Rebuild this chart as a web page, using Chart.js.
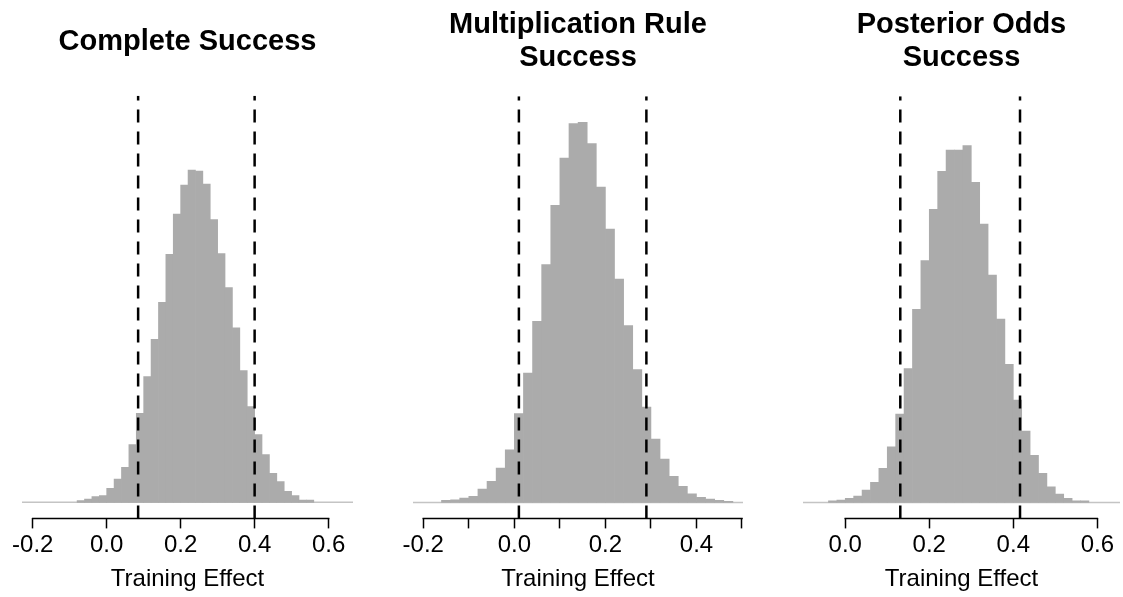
<!DOCTYPE html>
<html>
<head>
<meta charset="utf-8">
<script src="https://cdn.jsdelivr.net/npm/chart.js@4.4.1/dist/chart.umd.min.js"></script>
<style>
  body { margin: 0; background: #fff; }
  #wrap { position: relative; width: 1123px; height: 597px; }
  canvas { position: absolute; top: 0; }
</style>
</head>
<body>
<div id="wrap">
  <canvas id="chart1" width="374" height="597" style="left:0px"></canvas>
  <canvas id="chart2" width="375" height="597" style="left:374px"></canvas>
  <canvas id="chart3" width="374" height="597" style="left:749px"></canvas>
</div>
<script>
// histogram bins (left edges, width 0.02) and bar heights

// Complete Success
const completeBins = [-0.08, -0.06, -0.04, -0.02, 0.00, 0.02, 0.04, 0.06, 0.08, 0.10, 0.12, 0.14, 0.16, 0.18, 0.20, 0.22,
  0.24, 0.26, 0.28, 0.30, 0.32, 0.34, 0.36, 0.38, 0.40, 0.42, 0.44, 0.46, 0.48, 0.50, 0.52, 0.54];
const completeCounts = [5, 10, 17, 20, 42, 70, 105, 173, 267, 377, 488, 599, 743, 863, 950, 995,
  992, 953, 847, 745, 643, 523, 395, 287, 203, 143, 87, 62, 33, 20, 7, 7];
const completeInterval = [0.085, 0.40];
const completeTicks = [-0.2, 0, 0.2, 0.4, 0.6];
const completeLabels = [-0.2, 0, 0.2, 0.4, 0.6];
const completeRange = [-0.229, 0.666];

// Multiplication Rule Success
const multBins = [-0.16, -0.14, -0.12, -0.10, -0.08, -0.06, -0.04, -0.02, 0.00, 0.02, 0.04, 0.06, 0.08, 0.10, 0.12, 0.14,
  0.16, 0.18, 0.20, 0.22, 0.24, 0.26, 0.28, 0.30, 0.32, 0.34, 0.36, 0.38, 0.40, 0.42, 0.44, 0.46];
const multCounts = [6, 8, 13, 18, 40, 63, 103, 158, 266, 388, 543, 713, 891, 1033, 1136, 1140,
  1076, 946, 820, 670, 530, 398, 286, 190, 130, 78, 48, 26, 15, 10, 6, 3];
const multInterval = [0.01, 0.29];
const multTicks = [-0.2, -0.1, 0, 0.1, 0.2, 0.3, 0.4, 0.5];
const multLabels = [-0.2, 0, 0.2, 0.4];
const multRange = [-0.2226, 0.5022];

// Posterior Odds Success
const postBins = [-0.04, -0.02, 0.00, 0.02, 0.04, 0.06, 0.08, 0.10, 0.12, 0.14, 0.16, 0.18, 0.20, 0.22, 0.24, 0.26,
  0.28, 0.30, 0.32, 0.34, 0.36, 0.38, 0.40, 0.42, 0.44, 0.46, 0.48, 0.50, 0.52, 0.54, 0.56];
const postCounts = [5, 7, 12, 19, 37, 60, 102, 167, 265, 401, 579, 725, 879, 993, 1057, 1057,
  1070, 960, 835, 682, 550, 414, 307, 214, 141, 87, 47, 25, 12, 5, 5];
const postInterval = [0.131, 0.416];
const postTicks = [0, 0.2, 0.4, 0.6];
const postLabels = [0, 0.2, 0.4, 0.6];
const postRange = [-0.1006, 0.654];

const yRange = [-48, 1218];
const binWidth = 0.02;
const FONT = "'Liberation Sans', Arial, sans-serif";

// axis line only runs from first to last tick, like base R axis()
const axisLine = {
  id: "axisLine",
  afterDraw(chart) {
    const xs = chart.scales.x;
    const t = xs.ticks;
    const ctx = chart.ctx;
    ctx.save();
    ctx.strokeStyle = "#000";
    ctx.lineWidth = 1.5;
    ctx.beginPath();
    ctx.moveTo(xs.getPixelForValue(t[0].value) - 0.75, xs.top);
    ctx.lineTo(xs.getPixelForValue(t[t.length - 1].value) + 0.75, xs.top);
    ctx.stroke();
    ctx.restore();
  },
};

function dashed(v) {
  return {
    type: "line",
    data: [{ x: v, y: yRange[0] }, { x: v, y: yRange[1] }],
    borderColor: "#000",
    borderWidth: 2.5,
    borderDash: [13, 9],
    pointRadius: 0,
    order: 0,
  };
}

function makePanel(id, title, titlePad, bins, counts, interval, ticks, labels, range, pad) {
  new Chart(document.getElementById(id), {
    type: "bar",
    data: {
      datasets: [
        {
          data: bins.map((b, i) => ({ x: b + binWidth / 2, y: counts[i] })),
          backgroundColor: "#ababab",
          borderWidth: 0,
          barPercentage: 1,
          categoryPercentage: 1,
          order: 2,
        },
        {
          type: "line",
          data: [{ x: range[0], y: 0 }, { x: range[1], y: 0 }],
          borderColor: "#c4c4c4",
          borderWidth: 1.5,
          pointRadius: 0,
          order: 3,
        },
        dashed(interval[0]),
        dashed(interval[1]),
      ],
    },
    options: {
      responsive: false,
      animation: false,
      events: [],
      layout: { padding: { left: pad[0], right: pad[1], top: 0, bottom: 0 } },
      scales: {
        x: {
          type: "linear",
          offset: false,
          min: range[0],
          max: range[1],
          afterBuildTicks: (axis) => {
            axis.ticks = ticks.map((v) => ({ value: v }));
          },
          border: { display: false },
          grid: {
            offset: false,
            drawOnChartArea: false,
            drawTicks: true,
            tickLength: 10,
            tickColor: "#000",
            tickWidth: 1.5,
          },
          ticks: {
            autoSkip: false,
            maxRotation: 0,
            padding: 3,
            color: "#000",
            font: { family: FONT, size: 24 },
            callback: (v) => (labels.includes(v) ? v.toFixed(1) : ""),
          },
          title: {
            display: true,
            text: "Training Effect",
            color: "#000",
            font: { family: FONT, size: 24 },
            padding: { top: 2, bottom: 3 },
          },
        },
        y: { display: false, min: yRange[0], max: yRange[1] },
      },
      plugins: {
        legend: { display: false },
        tooltip: { enabled: false },
        title: {
          display: true,
          text: title,
          color: "#000",
          font: { family: FONT, size: 29, weight: "bold", lineHeight: 1.16 },
          padding: { top: titlePad[0], bottom: titlePad[1] },
        },
      },
    },
    plugins: [axisLine],
  });
}

makePanel("chart1", "Complete Success", [25, 37], completeBins, completeCounts, completeInterval,
  completeTicks, completeLabels, completeRange, [22, 21]);
makePanel("chart2", ["Multiplication Rule", "Success"], [8, 21], multBins, multCounts, multInterval,
  multTicks, multLabels, multRange, [39, 6]);
makePanel("chart3", ["Posterior Odds", "Success"], [8, 21], postBins, postCounts, postInterval,
  postTicks, postLabels, postRange, [54, 3]);
</script>
</body>
</html>
